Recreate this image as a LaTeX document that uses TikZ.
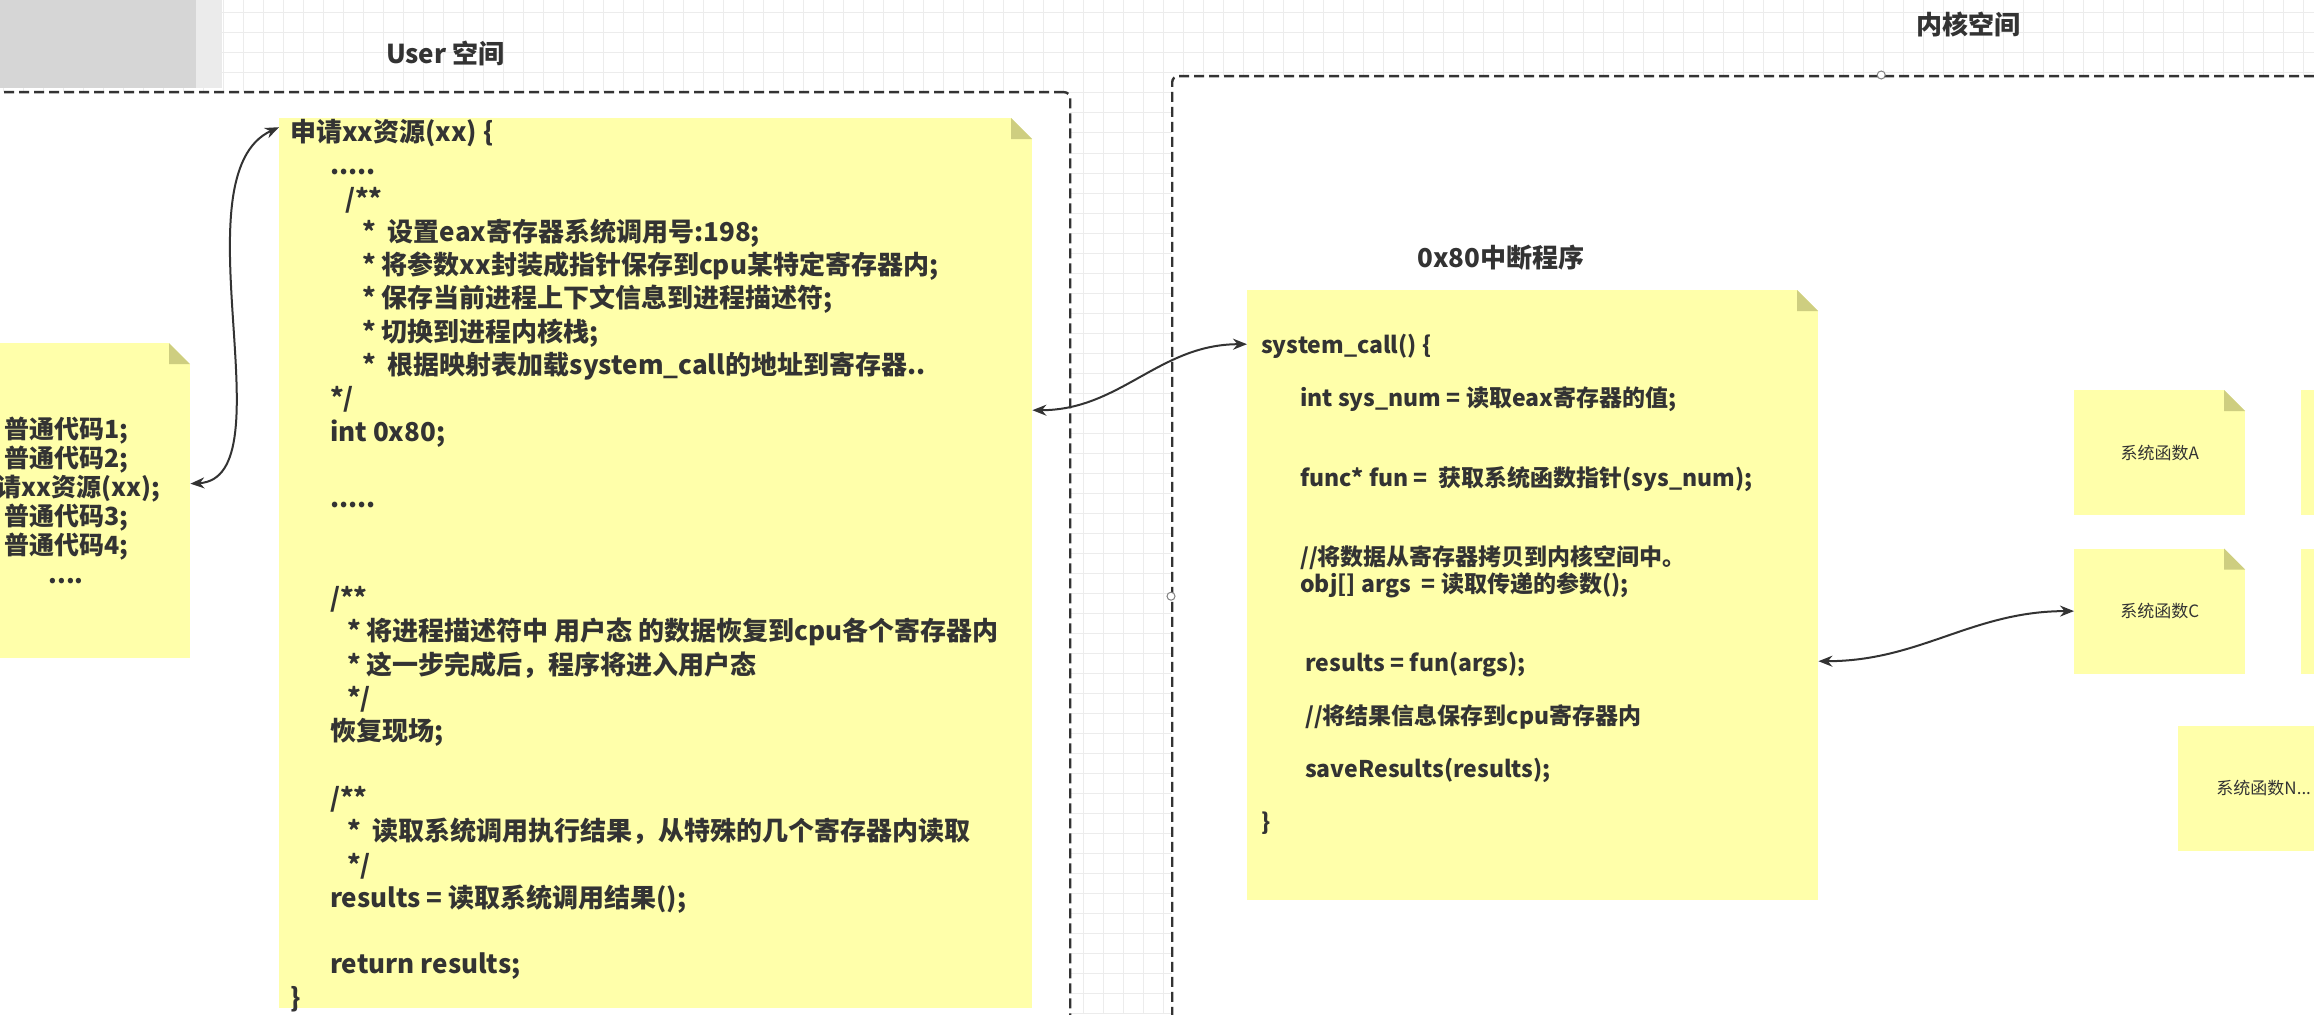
\documentclass[tikz,border=0pt]{standalone}
\usepackage{fontspec}
\setmainfont{Noto Sans CJK SC}
\usetikzlibrary{arrows.meta, positioning}
\definecolor{noteyellow}{RGB}{255,255,170}
\definecolor{notefold}{RGB}{206,206,128}
\definecolor{gridgray}{RGB}{236,236,236}
\definecolor{inkgray}{RGB}{51,51,51}
\newlength{\foldsize}\setlength{\foldsize}{21pt}
\tikzset{
    note/.style={rectangle, fill=noteyellow, inner sep=0pt, text=inkgray, path picture={
        \fill[white] ([xshift=-\foldsize]path picture bounding box.north east) -- (path picture bounding box.north east) -- ([yshift=-\foldsize]path picture bounding box.north east) -- cycle;
        \fill[notefold] ([xshift=-\foldsize]path picture bounding box.north east) -- ([xshift=-\foldsize,yshift=-\foldsize]path picture bounding box.north east) -- ([yshift=-\foldsize]path picture bounding box.north east) -- cycle;}},
    fnbox/.style={note, minimum width=171pt, minimum height=125pt, font=\fontsize{17}{20}\selectfont},
    zone/.style={rectangle, draw=inkgray, dash pattern=on 10pt off 5pt, line width=2.4pt, rounded corners=6pt, fill=white, inner sep=0pt},
    zonetitle/.style={font=\fontsize{26}{30}\selectfont\bfseries, text=inkgray, inner sep=0pt},
    usercodefont/.style={align=left, inner sep=0pt, text=inkgray, font=\fontsize{26}{33.3}\selectfont\bfseries},
    kernelcodefont/.style={align=left, inner sep=0pt, text=inkgray, font=\fontsize{23}{26.5}\selectfont\bfseries},
    hoverdot/.style={circle, draw=black!50, fill=white, line width=1pt, minimum size=8pt, inner sep=0pt},
    gridline/.style={draw=gridgray, line width=1pt},
    link/.style={{Stealth[length=14pt,width=11pt]}-{Stealth[length=14pt,width=11pt]}, line width=2pt, draw=inkgray},
}
\begin{document}
\begin{tikzpicture}[x=1pt, y=-1pt]
    \useasboundingbox (0,0) rectangle (2314,1014);
    \clip (0,0) rectangle (2314,1014);
    \fill[white] (0,0) rectangle (2314,1014);

    % canvas grid
    \foreach \gx in {3,23,...,2314} \draw[gridline] (\gx,0) -- (\gx,1014);
    \foreach \gy in {13,33,...,1014} \draw[gridline] (0,\gy) -- (2314,\gy);
    \fill[black!16] (0,0) rectangle (196,88);
    \fill[black!8] (196,0) rectangle (222,88);

    % the two spaces
    \node[zone, minimum width=1250pt, minimum height=1030pt, anchor=north west] (userzone) at (-181,91) {};
    \node[zone, minimum width=1418pt, minimum height=1040pt, anchor=north west] (kernelzone) at (1171,75) {};
    \node[hoverdot] (kerneltop) at (kernelzone.north) {};
    \node[hoverdot] (kernelleft) at (kernelzone.west) {};
    \node[zonetitle, above=25pt of userzone.north] (usertitle) {User 空间};
    \node[zonetitle, above=38pt of kernelzone.north, xshift=87pt] (kerneltitle) {内核空间};

    % user side
    \node[note, minimum width=248pt, minimum height=315pt, anchor=north west, align=center, font=\fontsize{25}{29}\selectfont\bfseries] (leftnote) at (-58,343) {普通代码1;\\普通代码2;\\申请xx资源(xx);\\普通代码3;\\普通代码4;\\....};
    \node[note, minimum width=753pt, minimum height=890pt, anchor=north west] (usercode) at (279,118) {};
    \node[usercodefont, anchor=north west] (usertext) at ([xshift=11pt,yshift=-1pt]usercode.north west) {申请xx资源(xx) \{\\
        \hspace*{40pt}.....\\
        \hspace*{55pt}/**\\
        \hspace*{72pt}*\ \ 设置eax寄存器系统调用号:198;\\
        \hspace*{72pt}* 将参数xx封装成指针保存到cpu某特定寄存器内;\\
        \hspace*{72pt}* 保存当前进程上下文信息到进程描述符;\\
        \hspace*{72pt}* 切换到进程内核栈;\\
        \hspace*{72pt}*\ \ 根据映射表加载system\_call的地址到寄存器..\\
        \hspace*{40pt}*/\\
        \hspace*{40pt}int 0x80;\\[33.3pt]
        \hspace*{40pt}.....\\[66.6pt]
        \hspace*{40pt}/**\\
        \hspace*{57pt}* 将进程描述符中 用户态 的数据恢复到cpu各个寄存器内\\
        \hspace*{57pt}* 这一步完成后，程序将进入用户态\\
        \hspace*{57pt}*/\\
        \hspace*{40pt}恢复现场;\\[33.3pt]
        \hspace*{40pt}/**\\
        \hspace*{57pt}*\ \ 读取系统调用执行结果，从特殊的几个寄存器内读取\\
        \hspace*{57pt}*/\\
        \hspace*{40pt}results = 读取系统调用结果();\\[33.3pt]
        \hspace*{40pt}return results;\\
        \}};

    % kernel side
    \node[note, minimum width=571pt, minimum height=610pt, anchor=north west] (kernelnote) at (1247,290) {};
    \node[zonetitle, above=20pt of kernelnote.north, xshift=-32pt] (handlertitle) {0x80中断程序};
    \node[kernelcodefont, anchor=north west] (kerneltext) at ([xshift=14pt,yshift=-44pt]kernelnote.north west) {system\_call() \{\\[26.5pt]
        \hspace*{39pt}int sys\_num = 读取eax寄存器的值;\\[53pt]
        \hspace*{39pt}func* fun =\ \ 获取系统函数指针(sys\_num);\\[53pt]
        \hspace*{39pt}//将数据从寄存器拷贝到内核空间中。\\
        \hspace*{39pt}obj[] args\ \ = 读取传递的参数();\\[53pt]
        \hspace*{44pt}results = fun(args);\\[26.5pt]
        \hspace*{44pt}//将结果信息保存到cpu寄存器内\\[26.5pt]
        \hspace*{44pt}saveResults(results);\\[26.5pt]
        \}};

    % system functions
    \node[fnbox, anchor=north west] (fnA) at (2074,390) {系统函数A};
    \node[fnbox, right=55pt of fnA] (fnB) {};
    \node[fnbox, below=33pt of fnA] (fnC) {系统函数C};
    \node[fnbox, right=55pt of fnC] (fnD) {};
    \node[fnbox, below=52pt of fnC, xshift=104pt] (fnN) {系统函数N...};

    % connectors
    \draw[link] ([yshift=17pt]leftnote.east) .. controls (290,478) and (175,175) .. ([yshift=436pt]usercode.west);
    \draw[link] ([yshift=153pt]usercode.east) to[out=0,in=180] ([yshift=251pt]kernelnote.west);
    \draw[link] ([yshift=-66pt]kernelnote.east) to[out=0,in=180] (fnC.west);
\end{tikzpicture}
\end{document}
